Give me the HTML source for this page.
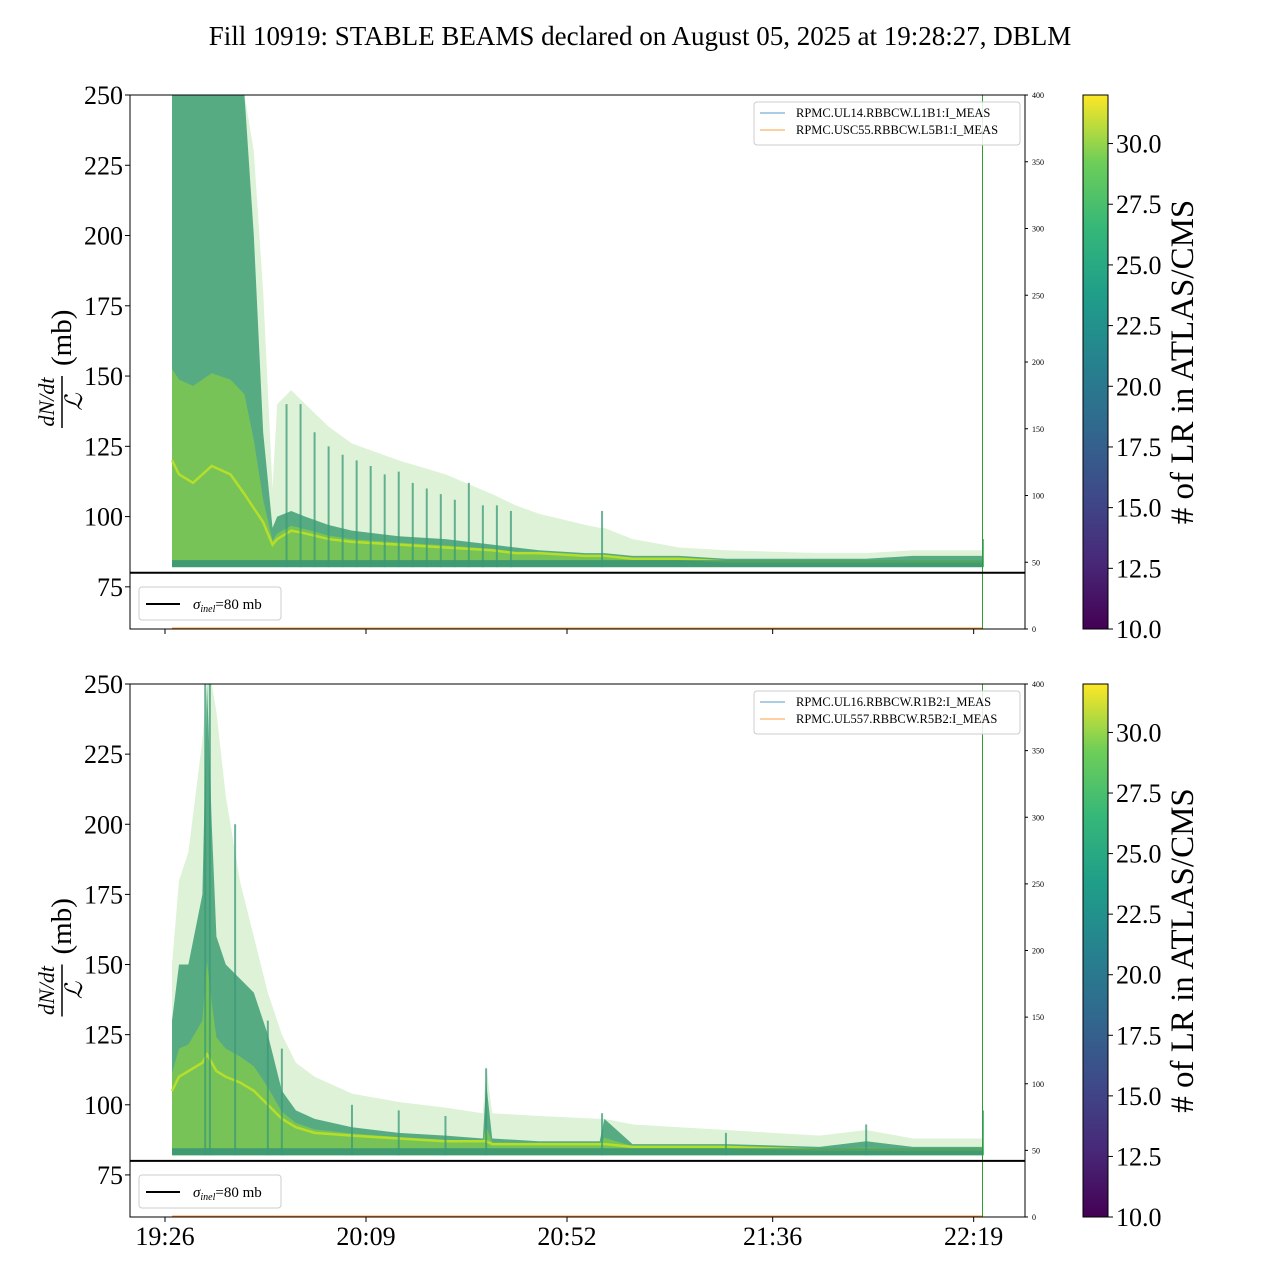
<!DOCTYPE html>
<html><head><meta charset="utf-8"><style>
body{margin:0;background:#fff}
svg{display:block;font-family:"Liberation Serif",serif}
</style></head><body>
<svg id="c" width="1280" height="1280" viewBox="0 0 1280 1280" xmlns="http://www.w3.org/2000/svg">
<defs>
<linearGradient id="vir" x1="0" y1="1" x2="0" y2="0">
<stop offset="0" stop-color="#440154"/><stop offset="0.125" stop-color="#482878"/><stop offset="0.25" stop-color="#3e4a89"/><stop offset="0.375" stop-color="#31688e"/><stop offset="0.5" stop-color="#26828e"/><stop offset="0.625" stop-color="#1f9e89"/><stop offset="0.75" stop-color="#35b779"/><stop offset="0.875" stop-color="#6ece58"/><stop offset="1" stop-color="#fde725"/>
</linearGradient>
</defs>
<text x="640" y="45" font-size="27" text-anchor="middle">Fill 10919: STABLE BEAMS declared on August 05, 2025 at 19:28:27, DBLM</text>
</svg>
<script>
const topTimes=[1.5,3,6,10,14,17,19,21,23,24,27,30,35,40,50,60,70,75,80,90,93,94,100,110,120,140,150,160,170,175];
const topUpper=[250,250,250,250,250,250,230,180,110,140,145,140,132,126,120,115,108,104,101,97,96,96,92,89,88,87,87,88,88,88];
const topDense=[250,250,250,250,250,250,200,130,96,100,102,100,97,95,93,92,90,89,88,87,87,87,86,86,85,85,85,86,86,86];
const topMid=[120,115,112,118,115,108,103,98,90,92,95,94,92,91,90,89,88,87,87,86,86,86,85,85,84,84,84,84,84,84];
const topLow=[82,82,82,82,82,82,82,82,82,82,82,82,82,82,82,82,82,82,82,82,82,82,82,82,82,82,82,82,82,82];
const topSpikeT=[26,29,32,35,38,41,44,47,50,53,56,59,62,65,68,71,74,93.5,175];
const topSpikeV=[140,140,130,125,122,120,118,115,116,112,110,108,106,112,104,104,102,102,92];
const botTimes=[1.5,3,5,8,9,10,11,13,16,19,22,25,28,32,40,50,60,68,68.7,70,80,93,94,100,120,140,150,160,170,175];
const botUpper=[150,180,190,230,250,250,240,210,180,160,140,125,115,110,104,101,99,97,114,97,96,95,95,93,91,89,91,88,88,88];
const botDense=[130,150,150,175,250,200,160,150,145,140,125,105,98,95,92,90,89,88,108,88,87,87,95,86,86,85,87,85,85,85];
const botMid=[105,110,112,115,118,115,112,110,108,105,100,95,92,90,89,88,87,87,87,86,86,86,86,85,85,84,84,84,84,84];
const botLow=[82,82,82,82,82,82,82,82,82,82,82,82,82,82,82,82,82,82,82,82,82,82,82,82,82,82,82,82,82,82];
const botSpikeT=[8.6,9.6,15,22,25,40,50,60,68.7,93.5,120,150,175];
const botSpikeV=[250,250,200,130,120,100,98,96,113,97,90,93,98];
const yTicks=[75,100,125,150,175,200,225,250];
const rTicks=[0,50,100,150,200,250,300,350,400];
const xTickLabels=["19:26","20:09","20:52","21:36","22:19"];
const xTickMin=[0,43,86,130,173];
const cbTicks=[10,12.5,15,17.5,20,22.5,25,27.5,30];

const NS="http://www.w3.org/2000/svg";
const svg=document.getElementById('c');
function mk(tag,attrs,parent){const e=document.createElementNS(NS,tag);for(const k in attrs)e.setAttribute(k,attrs[k]);(parent||svg).appendChild(e);return e;}
const X0=130,X1=1025;
function xS(t){return 165+t*201/43;}

function panel(name,y0,y1,times,upper,dense,mid,low,spT,spV,legA,legB,showX){
  const yS=v=>y0+(250-v)*(y1-y0)/190;
  const rS=v=>y1-v*(y1-y0)/400;
  const g=mk('g',{});
  
  
  const clip=mk('clipPath',{id:'cl'+name},g);mk('rect',{x:X0,y:y0,width:X1-X0,height:y1-y0},clip);
  const dg=mk('g',{'clip-path':'url(#cl'+name+')'},g);
  function band(a,b,col,op,dn){
    let pts=times.map((t,i)=>xS(t)+','+yS(a[i]));
    for(let i=times.length-1;i>=0;i--)pts.push(xS(times[i])+','+yS(b[i]));
    const p=mk('polygon',{points:pts.join(' '),fill:col,'fill-opacity':op},dg);
    
    
  }
  band(upper,low,'#8fd47a',0.3,'sparse-envelope');
  band(dense,low,'#3f9f74',0.85,'dense-envelope');
  const midHi=mid.map((m,i)=>m+(dense[i]-m)*0.25);
  band(midHi,low,'#7fc94e',0.8,'core-band');
  const ml=mk('polyline',{points:times.map((t,i)=>xS(t)+','+yS(mid[i])).join(' '),fill:'none',stroke:'#b5de2b','stroke-width':2.5},dg);
  
  
  band(low.map(v=>v+2.5),low,'#2a8a7e',0.7,'lower-band');
  spT.forEach((t,i)=>{
    const l=mk('line',{x1:xS(t),x2:xS(t),y1:yS(82),y2:yS(spV[i]),stroke:'#3a9a78','stroke-width':2,'stroke-opacity':0.75},dg);
    
    
  });
  const ol=mk('line',{x1:xS(1.5),x2:983,y1:rS(0.5),y2:rS(0.5),stroke:'#ff7f0e','stroke-width':1.5},g);
  
  
  const vl=mk('line',{x1:982.5,x2:982.5,y1:y0,y2:y1,stroke:'#2ca02c','stroke-width':1},g);
  
  
  const hl=mk('line',{x1:X0,x2:X1,y1:yS(80),y2:yS(80),stroke:'#000','stroke-width':2},g);
  
  
  mk('rect',{x:X0,y:y0,width:X1-X0,height:y1-y0,fill:'none',stroke:'#000','stroke-width':1},g);
  yTicks.forEach(v=>{
    mk('line',{x1:X0-5,x2:X0,y1:yS(v),y2:yS(v),stroke:'#000'},g);
    const t=mk('text',{x:X0-7,y:yS(v)+9,'font-size':26,'text-anchor':'end'},g);t.textContent=v;
    
    
  });
  rTicks.forEach(v=>{
    mk('line',{x1:X1,x2:X1+3,y1:rS(v),y2:rS(v),stroke:'#000'},g);
    const t=mk('text',{x:X1+7,y:rS(v)+3,'font-size':8},g);t.textContent=v;
    
    
  });
  xTickMin.forEach((m,i)=>{
    mk('line',{x1:xS(m),x2:xS(m),y1:y1,y2:y1+5,stroke:'#000'},g);
    if(showX){const t=mk('text',{x:xS(m),y:y1+28,'font-size':26,'text-anchor':'middle'},g);t.textContent=xTickLabels[i];
      
      }
  });
  const yl=mk('g',{transform:'translate(62,'+((y0+y1)/2)+') rotate(-90)'},g);
  
  
  let t=mk('text',{x:-40,y:-8,'font-size':22,'font-style':'italic','text-anchor':'middle'},yl);t.textContent='dN/dt';
  mk('line',{x1:-66,x2:-14,y1:0,y2:0,stroke:'#000','stroke-width':1.5},yl);
  t=mk('text',{x:-40,y:20,'font-size':24,'font-style':'italic','text-anchor':'middle'},yl);t.textContent='ℒ';
  t=mk('text',{x:-4,y:9,'font-size':29},yl);t.textContent='(mb)';
  const lg=mk('g',{},g);
  
  
  mk('rect',{x:139,y:y1-42,width:142,height:33,rx:3,fill:'#fff',stroke:'#ccc'},lg);
  mk('line',{x1:146,x2:180,y1:y1-25,y2:y1-25,stroke:'#000','stroke-width':2},lg);
  t=mk('text',{x:193,y:y1-20,'font-size':15},lg);
  t.innerHTML='<tspan font-style="italic">σ</tspan><tspan font-style="italic" font-size="10" dy="3">inel</tspan><tspan dy="-3">=80 mb</tspan>';
  const lg2=mk('g',{},g);
  
  
  mk('rect',{x:754,y:y0+7,width:266,height:43,rx:3,fill:'#fff','fill-opacity':0.85,stroke:'#ccc'},lg2);
  mk('line',{x1:760,x2:785,y1:y0+18,y2:y0+18,stroke:'#1f77b4','stroke-width':0.8},lg2);
  mk('line',{x1:760,x2:785,y1:y0+35,y2:y0+35,stroke:'#ff7f0e','stroke-width':0.8},lg2);
  t=mk('text',{x:796,y:y0+22,'font-size':12.5},lg2);t.textContent=legA;
  t=mk('text',{x:796,y:y0+39,'font-size':12.5},lg2);t.textContent=legB;
  const cb=mk('g',{},g);
  
  
  mk('rect',{x:1083,y:y0,width:25,height:y1-y0,fill:'url(#vir)',stroke:'#000','stroke-width':1},cb);
  const cS=v=>y1-(v-10)*(y1-y0)/22;
  cbTicks.forEach(v=>{
    mk('line',{x1:1108,x2:1113,y1:cS(v),y2:cS(v),stroke:'#000'},cb);
    const tt=mk('text',{x:1116,y:cS(v)+9,'font-size':26},cb);tt.textContent=v.toFixed(1);
  });
  t=mk('text',{x:0,y:0,'font-size':33,'text-anchor':'middle',transform:'translate(1193,'+((y0+y1)/2)+') rotate(-90)'},cb);
  t.textContent='# of LR in ATLAS/CMS';
}
panel('top',95,629,topTimes,topUpper,topDense,topMid,topLow,topSpikeT,topSpikeV,'RPMC.UL14.RBBCW.L1B1:I_MEAS','RPMC.USC55.RBBCW.L5B1:I_MEAS',false);
panel('bottom',684,1217,botTimes,botUpper,botDense,botMid,botLow,botSpikeT,botSpikeV,'RPMC.UL16.RBBCW.R1B2:I_MEAS','RPMC.UL557.RBBCW.R5B2:I_MEAS',true);
</script>
</body></html>
